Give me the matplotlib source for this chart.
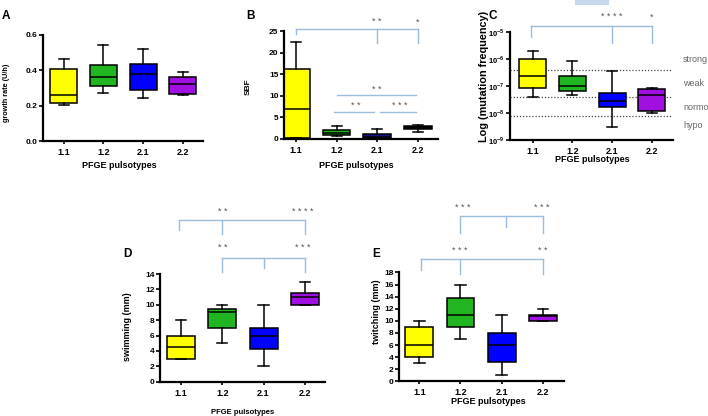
import matplotlib
matplotlib.use("Agg")
import matplotlib.pyplot as plt
import matplotlib.transforms as mtransforms
from matplotlib.patches import Rectangle

plt.rcParams['font.family'] = ['Liberation Sans', 'DejaVu Sans']
plt.rcParams['mathtext.fontset'] = 'custom'
plt.rcParams['mathtext.rm'] = 'Liberation Sans:bold'
plt.rcParams['mathtext.bf'] = 'Liberation Sans:bold'

W, H = 708, 416

# categories (PFGE pulsotypes)
pulsotypes = ['1.1', '1.2', '2.1', '2.2']

# five-number summaries per pulsotype: [whisker low, Q1, median, Q3, whisker high]
growth_rate = [[0.205, 0.213, 0.262, 0.405, 0.462],
               [0.273, 0.310, 0.364, 0.428, 0.540],
               [0.245, 0.289, 0.377, 0.437, 0.521],
               [0.260, 0.268, 0.321, 0.362, 0.392]]
sbf = [[0.1, 0.25, 7.0, 16.2, 22.5],
       [0.6, 0.95, 1.35, 2.0, 2.9],
       [0.0, 0.1, 0.4, 1.2, 2.2],
       [1.6, 2.2, 2.6, 2.9, 3.3]]
mutation_freq = [[4.0e-8, 8.7e-8, 2.3e-7, 1.0e-6, 1.95e-6],
                 [4.5e-8, 6.7e-8, 1.0e-7, 2.3e-7, 8.7e-7],
                 [3.0e-9, 1.7e-8, 2.8e-8, 5.3e-8, 3.5e-7],
                 [1.0e-8, 1.2e-8, 4.6e-8, 8.0e-8, 8.5e-8]]
swimming = [[3, 3, 4.5, 6, 8],
            [5, 7, 9, 9.5, 10],
            [2, 4.2, 6, 7, 10],
            [10, 10, 11, 11.5, 13]]
twitching = [[3, 4, 6, 9, 10],
             [7, 9, 11, 13.7, 16],
             [1, 3.25, 6, 8, 11],
             [10, 10, 10.8, 11, 12]]

# mutator thresholds for panel C
thresholds = [4e-7, 4e-8, 8e-9]
threshold_labels = ['strong', 'weak', 'normo', 'hypo']
threshold_label_y = [59, 83, 107, 126]

box_colors = ['#ffff00', '#22b522', '#0000ff', '#a010e0']
sbf_colors = ['#ffff00', '#22b522', '#14148a', '#000000']
BRACKET = '#9dbcdc'
STAR = '#555555'


def px_axes(left, right, top, bottom):
    return fig.add_axes([left / W, 1 - bottom / H, (right - left) / W, (bottom - top) / H])


def draw_boxes(ax, data, colors):
    stats = []
    for lo, q1, med, q3, hi in data:
        stats.append(dict(whislo=lo, q1=q1, med=med, q3=q3, whishi=hi, fliers=[]))
    bp = ax.bxp(stats, positions=range(1, 5), widths=0.68, capwidths=0.25,
                patch_artist=True, showfliers=False,
                boxprops=dict(edgecolor='black', linewidth=1.1),
                medianprops=dict(color='black', linewidth=1.1),
                whiskerprops=dict(color='black', linewidth=1.1),
                capprops=dict(color='black', linewidth=1.1))
    for patch, c in zip(bp['boxes'], colors):
        patch.set_facecolor(c)


def style(ax, xlim):
    ax.set_xlim(*xlim)
    ax.spines['top'].set_visible(False)
    ax.spines['right'].set_visible(False)
    ax.spines['left'].set_linewidth(1.6)
    ax.spines['bottom'].set_linewidth(1.6)
    ax.set_xticks(range(1, 5))
    ax.set_xticklabels(pulsotypes)
    ax.tick_params(axis='y', length=3, width=1.2, labelsize=6, pad=1)
    ax.tick_params(axis='x', length=2, width=1.2, labelsize=6.5, pad=3)
    for lab in ax.get_xticklabels() + ax.get_yticklabels():
        lab.set_fontweight('bold')
    ax.patch.set_alpha(0)


def bracket(ax, x_from, x_to, y_line, drops, stars):
    tr = mtransforms.blended_transform_factory(ax.transData, ax.transAxes)
    ax.plot([x_from, x_to], [y_line, y_line], color=BRACKET, lw=1, transform=tr, clip_on=False)
    for x, y_end in drops:
        ax.plot([x, x], [y_line, y_end], color=BRACKET, lw=1, transform=tr, clip_on=False)
    for x, y, s in stars:
        ax.text(x, y, s, transform=tr, ha='center', va='center', fontsize=6.5,
                color=STAR, clip_on=False)


fig = plt.figure(figsize=(W / 100, H / 100), dpi=100)

# ---- A: growth rate
axA = px_axes(43, 203, 34.7, 141.3)
draw_boxes(axA, growth_rate, box_colors)
style(axA, (0.48, 4.51))
axA.set_ylim(0, 0.6)
axA.set_yticks([0, 0.2, 0.4, 0.6])
axA.set_yticklabels(['0.0', '0.2', '0.4', '0.6'], fontweight='bold')

# ---- B: SBF
axB = px_axes(284, 438, 31.3, 138.7)
draw_boxes(axB, sbf, sbf_colors)
style(axB, (0.70, 4.5))
axB.set_ylim(0, 25)
axB.set_yticks([0, 5, 10, 15, 20, 25])
axB.set_yticklabels(['0', '5', '10', '15', '20', '25'], fontweight='bold')
bracket(axB, 1, 4, 1.019, [(1, 0.972), (3, 0.894), (4, 0.894)],
        [(3, 1.089, '* *'), (4, 1.089, '*')])
axB.plot([2.0, 3.96], [10.1, 10.1], color=BRACKET, lw=1, clip_on=False)
axB.text(2.99, 11.5, '* *', ha='center', va='center', fontsize=6.5, color=STAR)
axB.plot([1.94, 2.93], [6.15, 6.15], color=BRACKET, lw=1, clip_on=False)
axB.plot([3.07, 3.96], [6.15, 6.15], color=BRACKET, lw=1, clip_on=False)
axB.text(2.46, 7.7, '* *', ha='center', va='center', fontsize=6.5, color=STAR)
axB.text(3.55, 7.7, '* * *', ha='center', va='center', fontsize=6.5, color=STAR)

# ---- C: mutation frequency (log)
axC = px_axes(510, 673, 32, 140)
draw_boxes(axC, mutation_freq, box_colors)
axC.set_yscale('log')
style(axC, (0.43, 4.53))
axC.set_ylim(1e-9, 1e-5)
axC.set_yticks([1e-9, 1e-8, 1e-7, 1e-6, 1e-5])
axC.set_yticklabels([r'$10^{-9}$', r'$10^{-8}$', r'$10^{-7}$', r'$10^{-6}$', r'$10^{-5}$'])
axC.tick_params(axis='y', labelsize=5.5)
axC.minorticks_off()
for t in thresholds:
    axC.axhline(t, color='#444444', lw=0.9, ls=(0, (1, 1.5)), zorder=0)
for lab, y in zip(threshold_labels, threshold_label_y):
    fig.text(683 / W, 1 - y / H, lab, fontsize=6.5, color='#666666', va='center', ha='left')
bracket(axC, 0.95, 4, 1.056, [(0.95, 0.954), (3, 0.898), (4, 0.898)],
        [(3, 1.139, '* * * *'), (4, 1.139, '*')])

# ---- D: swimming
axD = px_axes(160, 325, 274, 381.7)
draw_boxes(axD, swimming, box_colors)
style(axD, (0.49, 4.49))
axD.set_ylim(0, 14)
axD.set_yticks(range(0, 15, 2))
for lab in axD.get_yticklabels():
    lab.set_fontweight('bold')
bracket(axD, 0.95, 4, 1.499, [(0.95, 1.409), (2, 1.369), (4, 1.369)],
        [(2, 1.583, '* *'), (3.95, 1.583, '* * * *')])
bracket(axD, 2, 4, 1.146, [(2, 1.021), (3, 1.058), (4, 1.021)],
        [(2, 1.244, '* *'), (3.95, 1.244, '* * *')])

# ---- E: twitching
axE = px_axes(399.3, 564, 272.4, 381.3)
draw_boxes(axE, twitching, box_colors)
style(axE, (0.51, 4.52))
axE.set_ylim(0, 18)
axE.set_yticks(range(0, 19, 2))
for lab in axE.get_yticklabels():
    lab.set_fontweight('bold')
bracket(axE, 2, 4, 1.521, [(2, 1.359), (3.1, 1.420), (4, 1.359)],
        [(2.05, 1.598, '* * *'), (3.97, 1.598, '* * *')])
bracket(axE, 1.03, 4, 1.123, [(1.03, 1.022), (2, 0.985), (4, 0.985)],
        [(1.97, 1.200, '* * *'), (4, 1.200, '* *')])

# ---- shared texts (figure pixel coordinates)
def ftext(x, y, s, **kw):
    fig.text(x / W, 1 - y / H, s, **kw)

for x, y, s in [(6, 16, 'A'), (250, 16, 'B'), (493, 16, 'C'), (127, 254, 'D'), (376, 254, 'E')]:
    ftext(x, y, s, fontsize=8.5, fontweight='bold', ha='center', va='center')

for x, y, size in [(119, 165, 6.5), (356, 166, 6.5), (592, 160, 6.5), (243, 412, 5.5), (488, 402, 6.5)]:
    ftext(x, y, 'PFGE pulsotypes', fontsize=size, fontweight='bold', ha='center', va='center')

for x, y, s, size in [(7, 93, 'growth rate (U/h)', 5.2), (248, 87, 'SBF', 6),
                      (484, 76, 'Log (mutation frequency)', 7.8), (128, 327, 'swimming (mm)', 6.5),
                      (377, 312, 'twitching (mm)', 6.5)]:
    ftext(x, y, s, fontsize=size, fontweight='bold', ha='center', va='center', rotation=90)

# small light-blue block at the top edge
fig.patches.append(Rectangle((575 / W, 1 - 5 / H), 34 / W, 5 / H,
                             transform=fig.transFigure, facecolor='#c5d8ee',
                             edgecolor='none'))

fig.savefig('out.png', dpi=100)
